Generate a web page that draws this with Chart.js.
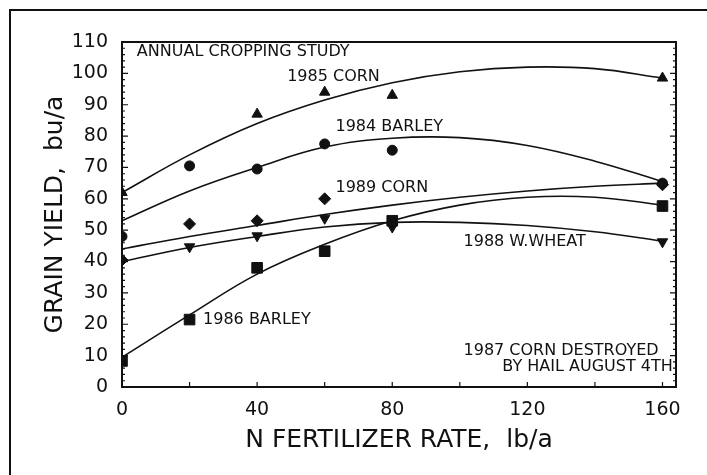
<!DOCTYPE html>
<html>
<head>
<meta charset="utf-8">
<script src="https://cdn.jsdelivr.net/npm/chart.js@4.4.1/dist/chart.umd.min.js"></script>
<style>
  html, body { margin: 0; padding: 0; background: #fff; }
</style>
</head>
<body>
<canvas id="yieldChart" width="707" height="475"></canvas>
<script>
// N rates with measured yields (bu/a), null = no marker visible
const rates = [0, 20, 40, 60, 80, 160];
const corn1985 = [62, null, 87, 94, 93, 98.5];
const barley1984 = [48, 70.5, 69.5, 77.5, 75.5, 65];
const corn1989 = [40.5, 52, 53, 60, null, 64.5];
const wheat1988 = [null, 44.7, 48.2, 53.8, 51, 46.3];
const barley1986 = [8.3, 21.5, 38, 43.3, 53, 57.7];

// fitted response curves
const curveRates = [0, 20, 40, 60, 80, 100, 120, 140, 160];
const fit1985 = [62, 74, 84, 91.5, 97, 100.5, 102, 101.5, 98.5];
const fit1984 = [53, 62.5, 70, 76.5, 79.3, 79.5, 77, 72, 65.5];
const fit1989 = [44, 48, 51.5, 55, 58, 60.5, 62.5, 64, 65];
const fit1988 = [40, 44.5, 48, 51, 52.5, 52.5, 51.5, 49.5, 46.5];
const fit1986 = [9.5, 23, 36, 45.5, 53, 58, 60.5, 60.5, 58];

const yTicks = [0, 10, 20, 30, 40, 50, 60, 70, 80, 90, 100, 110];
const xTicks = [0, 40, 80, 120, 160];

// text written inside the plot, anchored in data units
const notes = [
    { text: 'ANNUAL CROPPING STUDY', x: 4.4, y: 106.8 },
    { text: '1985 CORN', x: 48.9, y: 98.9 },
    { text: '1984 BARLEY', x: 63.2, y: 83 },
    { text: '1989 CORN', x: 63.2, y: 63.4 },
    { text: '1988 W.WHEAT', x: 101.1, y: 46.3 },
    { text: '1986 BARLEY', x: 24, y: 21.4 },
    { text: '1987 CORN DESTROYED', x: 101.1, y: 11.6 },
    { text: 'BY HAIL AUGUST 4TH', x: 112.6, y: 6.5 }
];

const ink = '#111';
const family = "'DejaVu Sans', sans-serif";

function toPoints(xs, ys) {
    return xs.map((v, i) => ({ x: v, y: ys[i] })).filter(p => p.y !== null);
}

function markers(values, style, radius, rotation) {
    return {
        type: 'scatter',
        data: toPoints(rates, values),
        showLine: false,
        pointStyle: style,
        pointRadius: radius,
        pointRotation: rotation || 0,
        pointBackgroundColor: ink,
        pointBorderColor: ink,
        pointBorderWidth: 1
    };
}

function curve(values) {
    return {
        type: 'line',
        data: toPoints(curveRates, values),
        borderColor: ink,
        borderWidth: 1.6,
        pointRadius: 0,
        tension: 0.4,
        fill: false
    };
}

const paperPlugin = {
    id: 'paper',
    beforeDraw(chart) {
        const ctx = chart.ctx;
        ctx.save();
        ctx.fillStyle = '#fff';
        ctx.fillRect(0, 0, chart.width, chart.height);
        // outer frame of the scanned page (left and top edges only)
        ctx.strokeStyle = ink;
        ctx.lineWidth = 2;
        ctx.beginPath();
        ctx.moveTo(10, chart.height);
        ctx.lineTo(10, 10);
        ctx.lineTo(chart.width, 10);
        ctx.stroke();
        ctx.restore();
    },
    afterDraw(chart) {
        const { ctx, chartArea: a, scales: { x, y } } = chart;
        ctx.save();
        ctx.strokeStyle = ink;
        ctx.lineWidth = 2;
        ctx.strokeRect(a.left, a.top, a.right - a.left, a.bottom - a.top);

        // inward tick marks, minor every 2 on both y sides, every 20 on x
        ctx.lineWidth = 1.2;
        ctx.beginPath();
        for (let v = y.min; v <= y.max; v += 2) {
            const py = y.getPixelForValue(v);
            const len = v % 10 === 0 ? 6 : 3;
            ctx.moveTo(a.left, py); ctx.lineTo(a.left + len, py);
            ctx.moveTo(a.right, py); ctx.lineTo(a.right - len, py);
        }
        for (let v = 0; v <= 160; v += 20) {
            const px = x.getPixelForValue(v);
            ctx.moveTo(px, a.bottom); ctx.lineTo(px, a.bottom - 5);
        }
        ctx.stroke();

        ctx.fillStyle = ink;
        ctx.font = '16px ' + family;
        ctx.textBaseline = 'middle';
        ctx.textAlign = 'left';
        notes.forEach(n => {
            ctx.fillText(n.text, x.getPixelForValue(n.x), y.getPixelForValue(n.y));
        });
        ctx.restore();
    }
};

new Chart(document.getElementById('yieldChart'), {
    data: {
        datasets: [
            markers(corn1985, 'triangle', 6),
            markers(barley1984, 'circle', 5),
            markers(barley1986, 'rect', 7.5),
            markers(corn1989, 'rectRot', 6),
            markers(wheat1988, 'triangle', 6, 180),
            curve(fit1985),
            curve(fit1984),
            curve(fit1989),
            curve(fit1988),
            curve(fit1986)
        ]
    },
    options: {
        responsive: false,
        animation: false,
        events: [],
        layout: { padding: { top: 42, right: 31, left: 0, bottom: 0 } },
        plugins: {
            legend: { display: false },
            tooltip: { enabled: false }
        },
        scales: {
            x: {
                type: 'linear',
                min: 0,
                max: 164,
                afterFit: s => { s.height = 88; },
                afterBuildTicks: s => { s.ticks = xTicks.map(v => ({ value: v })); },
                grid: { display: false, drawTicks: false },
                border: { display: false },
                ticks: {
                    color: ink,
                    padding: 12,
                    font: { family: family, size: 19 }
                },
                title: {
                    display: true,
                    text: 'N FERTILIZER RATE,  lb/a',
                    color: ink,
                    font: { family: family, size: 25 },
                    padding: { top: 0, bottom: 20 }
                }
            },
            y: {
                type: 'linear',
                min: 0,
                max: 110,
                afterFit: s => { s.width = 122; },
                afterBuildTicks: s => { s.ticks = yTicks.map(v => ({ value: v })); },
                grid: { display: false, drawTicks: false },
                border: { display: false },
                ticks: {
                    color: ink,
                    padding: 14,
                    font: { family: family, size: 19 }
                },
                title: {
                    display: true,
                    text: 'GRAIN YIELD,  bu/a',
                    color: ink,
                    font: { family: family, size: 25 },
                    padding: { top: 40 }
                }
            }
        }
    },
    plugins: [paperPlugin]
});
</script>
</body>
</html>
